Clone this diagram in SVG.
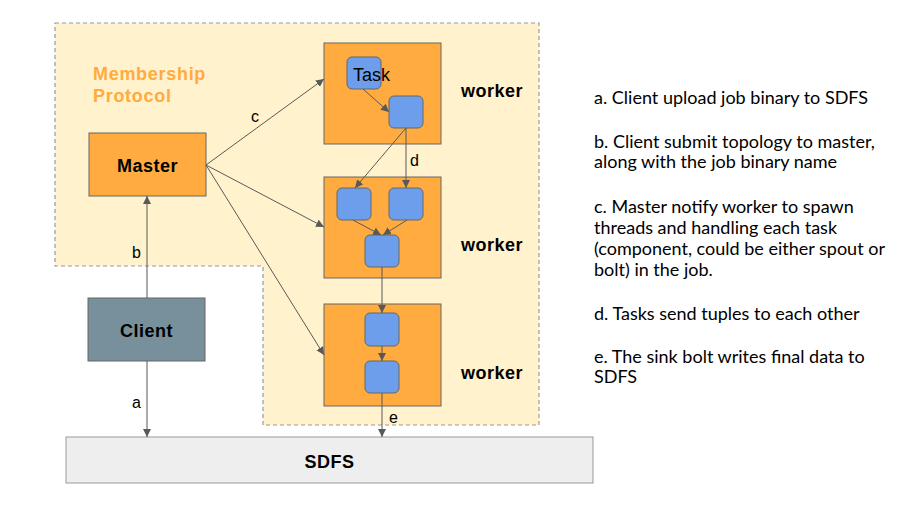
<svg xmlns="http://www.w3.org/2000/svg" width="920" height="507" viewBox="0 0 920 507">
<defs>
<marker id="ah" viewBox="0 0 10 10" refX="10" refY="5" markerWidth="8" markerHeight="8" markerUnits="userSpaceOnUse" orient="auto">
<path d="M0,0 L10,5 L0,10 z" fill="#595959"/>
</marker>
<style>
.lbl{font-family:"Liberation Sans",Arial,sans-serif;font-size:16px;fill:#000}
.bold{font-family:"Liberation Sans",Arial,sans-serif;font-size:18px;font-weight:bold;fill:#000;letter-spacing:0.5px}
.wk{fill:#FFAB40;stroke:#666;stroke-width:1}
.task{fill:#6D9EEB;stroke:#666;stroke-width:1}
.cn{stroke:#595959;stroke-width:1;fill:none;marker-end:url(#ah)}
.note{font-family:Lato,"Open Sans",sans-serif;font-size:18px;fill:#000}
.mp{font-family:"Liberation Sans",Arial,sans-serif;font-size:18px;font-weight:bold;fill:#FFAB40;letter-spacing:0.7px}
</style>
</defs>
<rect width="920" height="507" fill="#fff"/>
<g id="membership">
<path d="M55,23 H539 V425 H263 V266 H55 Z" fill="#FFF2CC" stroke="#999" stroke-width="1.2" stroke-dasharray="4,3"/>
<text x="93" y="79.5" class="mp">Membership</text>
<text x="93" y="101.5" class="mp">Protocol</text>
</g>
<g id="master">
<rect x="89" y="133" width="117" height="63" class="wk"/>
<text x="147.5" y="172" class="bold" text-anchor="middle">Master</text>
</g>
<g id="client">
<rect x="88" y="298" width="117" height="63" fill="#78909C" stroke="#666"/>
<text x="146.5" y="337" class="bold" text-anchor="middle">Client</text>
</g>
<g id="sdfs">
<rect x="66" y="437" width="527" height="46" fill="#EEEEEE" stroke="#999"/>
<text x="329.5" y="468" class="bold" text-anchor="middle">SDFS</text>
</g>
<g id="worker1">
<rect x="324" y="43" width="117" height="101" class="wk"/>
<rect x="347" y="57" width="34" height="32" rx="5" class="task"/>
<rect x="389" y="96" width="34" height="32" rx="5" class="task"/>
<text x="353" y="80.5" class="lbl" style="font-size:18px">Task</text>
<text x="461" y="96.5" class="bold">worker</text>
</g>
<g id="worker2">
<rect x="324" y="177" width="117" height="101" class="wk"/>
<rect x="337" y="188" width="34" height="32" rx="5" class="task"/>
<rect x="389" y="188" width="34" height="32" rx="5" class="task"/>
<rect x="365" y="235" width="34" height="32" rx="5" class="task"/>
<text x="461" y="250.5" class="bold">worker</text>
</g>
<g id="worker3">
<rect x="324" y="304" width="117" height="102" class="wk"/>
<rect x="365" y="313" width="34" height="33" rx="5" class="task"/>
<rect x="365" y="361" width="34" height="32" rx="5" class="task"/>
<text x="461" y="378.5" class="bold">worker</text>
</g>
<g id="connectors">
<line x1="206" y1="165" x2="324" y2="79" class="cn"/>
<line x1="206" y1="165" x2="324" y2="227" class="cn"/>
<line x1="206" y1="165" x2="324" y2="355" class="cn"/>
<line x1="147" y1="298" x2="147" y2="196" class="cn"/>
<line x1="147" y1="361" x2="147" y2="437" class="cn"/>
<line x1="363" y1="89" x2="389" y2="112" class="cn"/>
<line x1="406" y1="128" x2="355" y2="188" class="cn"/>
<line x1="406" y1="128" x2="406" y2="188" class="cn"/>
<line x1="353" y1="220" x2="381" y2="235" class="cn"/>
<line x1="407" y1="220" x2="383" y2="235" class="cn"/>
<line x1="382" y1="267" x2="382" y2="313" class="cn"/>
<line x1="382" y1="346" x2="382" y2="361" class="cn"/>
<line x1="382" y1="393" x2="382" y2="437" class="cn"/>
<text x="251" y="122" class="lbl">c</text>
<text x="132" y="258" class="lbl">b</text>
<text x="132" y="408" class="lbl">a</text>
<text x="410" y="166" class="lbl">d</text>
<text x="389" y="423" class="lbl">e</text>
</g>
<g id="notes">
<text x="594" y="104" class="note">a. Client upload job binary to SDFS</text>
<text x="594" y="148" class="note">b. Client submit topology to master,</text>
<text x="594" y="168" class="note">along with the job binary name</text>
<text x="594" y="213" class="note">c. Master notify worker to spawn</text>
<text x="594" y="234" class="note">threads and handling each task</text>
<text x="594" y="255" class="note">(component, could be either spout or</text>
<text x="594" y="276" class="note">bolt) in the job.</text>
<text x="594" y="320" class="note">d. Tasks send tuples to each other</text>
<text x="594" y="363" class="note">e. The sink bolt writes final data to</text>
<text x="594" y="383" class="note">SDFS</text>
</g>
</svg>
